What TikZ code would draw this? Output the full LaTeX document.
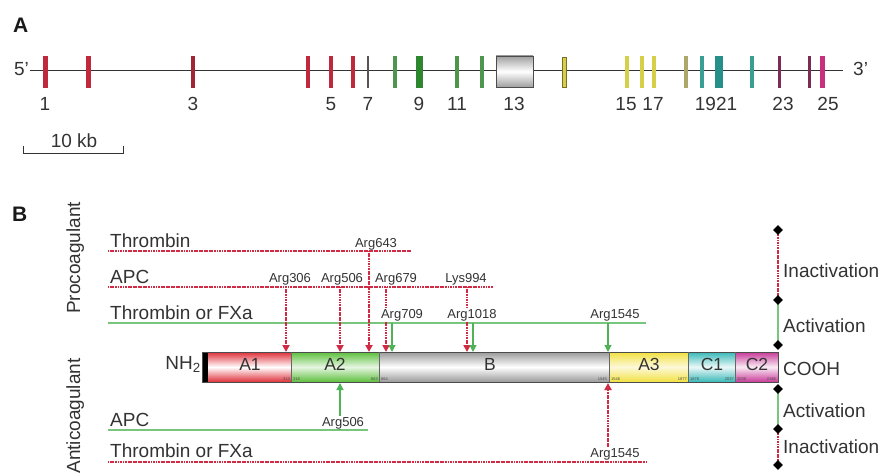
\documentclass[tikz,border=0pt]{standalone}
\usepackage{fontspec}
\setmainfont{Liberation Sans}
\usetikzlibrary{arrows.meta,shapes.geometric}
\definecolor{fred}{HTML}{D02A44}
\definecolor{fgreen}{HTML}{78C67E}
\definecolor{agreen}{HTML}{4DB356}
\definecolor{txt}{HTML}{333333}
\definecolor{exred}{HTML}{C0283C}
\definecolor{exdred}{HTML}{A02535}
\definecolor{exgrey}{HTML}{555555}
\definecolor{exgreen}{HTML}{4E964E}
\definecolor{exdgreen}{HTML}{2E862E}
\definecolor{exyel}{HTML}{D6D048}
\definecolor{exolive}{HTML}{ABA86A}
\definecolor{exteal}{HTML}{3A9E94}
\definecolor{exdteal}{HTML}{25908A}
\definecolor{expurp}{HTML}{7A2C52}
\definecolor{exmag}{HTML}{C8307E}
\definecolor{dA1c}{HTML}{E0303A}
\definecolor{dA2c}{HTML}{5CBF3C}
\definecolor{dBc}{HTML}{9A9A9A}
\definecolor{dA3c}{HTML}{F2E040}
\definecolor{dC1c}{HTML}{38B8B8}
\definecolor{dC2c}{HTML}{C83A98}
\begin{document}
\begin{tikzpicture}[x=1pt,y=-1pt,
  big/.style={font=\fontsize{19}{22}\selectfont, text=txt, inner sep=0pt},
  dom/.style={font=\fontsize{17.5}{20}\selectfont, text=txt, inner sep=0pt, anchor=base},
  small/.style={font=\fontsize{13}{15}\selectfont, text=txt, inner sep=0.5pt, fill=white, anchor=base},
  tiny/.style={font=\fontsize{4}{4}\selectfont, text=black!70, inner sep=0pt},
  panel/.style={font=\fontsize{21}{24}\selectfont\bfseries, text=black!90, inner sep=0pt, anchor=base west},
  redline/.style={draw=fred, line width=2pt, dash pattern=on 1.2pt off 0.45pt},
  greenline/.style={draw=fgreen, line width=1.2pt},
  redarr/.style={redline, -{Triangle[width=7pt,length=7pt]}},
  greenarr/.style={draw=agreen, line width=1.1pt, -{Triangle[width=7pt,length=7pt]}},
  dmd/.style={diamond, fill=black, minimum size=10pt, inner sep=0pt}
]
\useasboundingbox (0,0) rectangle (883,476);

% ---------------- Panel A ----------------
\node[panel] (labA) at (13,33) {A};
\coordinate (g5) at (30,71);
\coordinate (g3) at (843,71);
\draw[txt, line width=1pt] (g5) -- (g3);
\node[big, anchor=base east] (five) at (29,76) {5'};
\node[big, anchor=base west] (three) at (853,76) {3'};

\foreach \x/\w/\c in {45/5/exred, 88/5/exred, 193/4/exdred, 308/4/exred, 331/4/exred, 353/4/exred, 368/2/exgrey, 395/4/exgreen, 419/7/exdgreen, 457/4/exgreen, 482/4/exgreen, 627/4/exyel, 642/4/exyel, 654/4/exyel, 686/4/exolive, 702/4/exteal, 719/8/exdteal, 752/4/exteal, 779/3/expurp, 809/3/expurp, 822/5/exmag}
  {\fill[\c] (\x-\w/2,56) rectangle (\x+\w/2,88);}
\filldraw[fill=exyel, draw=exyel!55!black, line width=0.5pt] (562,57) rectangle (566,87);
\shade[top color=gray!75, bottom color=gray!75, middle color=white] (496,56) rectangle (533,87);
\draw[gray!60!black, line width=0.6pt] (496,56) rectangle (533,87);

\foreach \x/\t [count=\i] in {45/1, 193/3, 331/5, 368/7, 419/9, 457/11, 514/13, 626/15, 653/17, 716/1921, 783/23, 828/25}
  {\node[big, anchor=base] (en\i) at (\x,111) {\t};}

\node[big, anchor=base] (kb) at (74,147) {10 kb};
\coordinate (sb1) at (23,153);
\coordinate (sb2) at (123,153);
\draw[txt, line width=0.9pt] ([yshift=7pt]sb1) -- (sb1) -- (sb2) -- ([yshift=7pt]sb2);

% ---------------- Panel B ----------------
\node[panel] (labB) at (12,221) {B};
\node[big, anchor=base, rotate=90] (pro) at (80,258) {Procoagulant};
\node[big, anchor=base, rotate=90] (anti) at (80,416) {Anticoagulant};

% upper lines
\node[big, anchor=base west] (thr) at (110,247) {Thrombin};
\node[big, anchor=base west] (apc) at (110,283) {APC};
\node[big, anchor=base west] (tfx) at (110,319) {Thrombin or FXa};
\coordinate (L1a) at (108,251); \coordinate (L1b) at (410,251);
\coordinate (L2a) at (108,287); \coordinate (L2b) at (493,287);
\coordinate (L3a) at (108,323); \coordinate (L3b) at (646,323);
\draw[redline] (L1a) -- (L1b);
\draw[redline] (L2a) -- (L2b);
\draw[greenline] (L3a) -- (L3b);

% lower lines
\node[big, anchor=base west] (apc2) at (110,426) {APC};
\node[big, anchor=base west] (tfx2) at (110,457) {Thrombin or FXa};
\coordinate (L4a) at (108,430); \coordinate (L4b) at (368,430);
\coordinate (L5a) at (108,462); \coordinate (L5b) at (647,462);
\draw[greenline] (L4a) -- (L4b);
\draw[redline] (L5a) -- (L5b);

% domain bar
\fill[black] (202,352) rectangle (208,382);
\shade[top color=dA1c, bottom color=dA1c, middle color=white] (208,352) rectangle (291,382);
\shade[top color=dA2c, bottom color=dA2c, middle color=dA2c!15] (291,352) rectangle (379,382);
\shade[top color=dBc, bottom color=dBc, middle color=white] (379,352) rectangle (609,382);
\shade[top color=dA3c, bottom color=dA3c, middle color=dA3c!20] (609,352) rectangle (688,382);
\shade[top color=dC1c, bottom color=dC1c, middle color=dC1c!10] (688,352) rectangle (735,382);
\shade[top color=dC2c, bottom color=dC2c, middle color=dC2c!10] (735,352) rectangle (778,382);
\draw[black!70, line width=0.8pt] (202,352) rectangle (778,382);
\foreach \x in {291,379,609,688,735} {\draw[black!60, line width=0.6pt] (\x,352) -- (\x,382);}

\node[dom] (dA1) at (250,370) {A1};
\node[dom] (dA2) at (335,370) {A2};
\node[dom] (dB) at (490,370) {B};
\node[dom] (dA3) at (649,370) {A3};
\node[dom] (dC1) at (712,370) {C1};
\node[dom] (dC2) at (757,370) {C2};
\node[big, anchor=base east] (nh2) at (201,369) {NH\textsubscript{2}};

\node[tiny, anchor=base east] (n1) at (290,380) {313};
\node[tiny, anchor=base west] (n2) at (293,380) {318};
\node[tiny, anchor=base east] (n3) at (378,380) {663};
\node[tiny, anchor=base west] (n4) at (381,380) {664};
\node[tiny, anchor=base east] (n5) at (607,380) {1545};
\node[tiny, anchor=base west] (n6) at (611,380) {1546};
\node[tiny, anchor=base east] (n7) at (687,380) {1877};
\node[tiny, anchor=base west] (n8) at (690,380) {1878};
\node[tiny, anchor=base east] (n9) at (734,380) {2037};
\node[tiny, anchor=base west] (n10) at (737,380) {2038};
\node[tiny, anchor=base east] (n11) at (776,380) {2196};

% cleavage arrows above the bar
\foreach \x/\ys/\nm in {286/287/a306, 340/287/a506, 369/251/a643, 386/287/a679, 467/287/a994}
  {\coordinate (\nm s) at (\x,\ys); \coordinate (\nm e) at (\x,352);
   \draw[redarr] (\nm s) -- (\nm e);}
\foreach \x/\nm in {392/a709, 473/a1018, 608/a1545}
  {\coordinate (\nm s) at (\x,323); \coordinate (\nm e) at (\x,352);
   \draw[greenarr] (\nm s) -- (\nm e);}
% below the bar
\coordinate (b506s) at (340,430); \coordinate (b506e) at (340,383);
\draw[greenarr] (b506s) -- (b506e);
\coordinate (b1545s) at (608,462); \coordinate (b1545e) at (608,383);
\draw[redarr] (b1545s) -- (b1545e);

% site labels (drawn over the arrow shafts)
\node[small] (t643) at (376,247) {Arg643};
\node[small] (t306) at (290,282) {Arg306};
\node[small] (t506) at (342,282) {Arg506};
\node[small] (t679) at (396,282) {Arg679};
\node[small] (t994) at (466,282) {Lys994};
\node[small] (t709) at (402,318) {Arg709};
\node[small] (t1018) at (472,318) {Arg1018};
\node[small] (t1545) at (615,318) {Arg1545};
\node[small] (b506) at (343,426) {Arg506};
\node[small] (b1545) at (615,457) {Arg1545};

% right-hand scale
\coordinate (r1) at (778,230);
\coordinate (r2) at (778,300);
\coordinate (r3) at (778,345);
\coordinate (r4) at (778,389);
\coordinate (r5) at (778,429);
\coordinate (r6) at (778,465);
\draw[redline] (r1) -- (r2);
\draw[greenline] (r2) -- (r3);
\draw[greenline] (r4) -- (r5);
\draw[redline] (r5) -- (r6);
\foreach \i in {1,...,6} {\node[dmd] (dm\i) at (r\i) {};}

\node[big, anchor=base west] (inact1) at (783,277) {Inactivation};
\node[big, anchor=base west] (act1) at (783,332) {Activation};
\node[big, anchor=base west] (cooh) at (783,375) {COOH};
\node[big, anchor=base west] (act2) at (783,417) {Activation};
\node[big, anchor=base west] (inact2) at (783,453) {Inactivation};
\end{tikzpicture}
\end{document}
